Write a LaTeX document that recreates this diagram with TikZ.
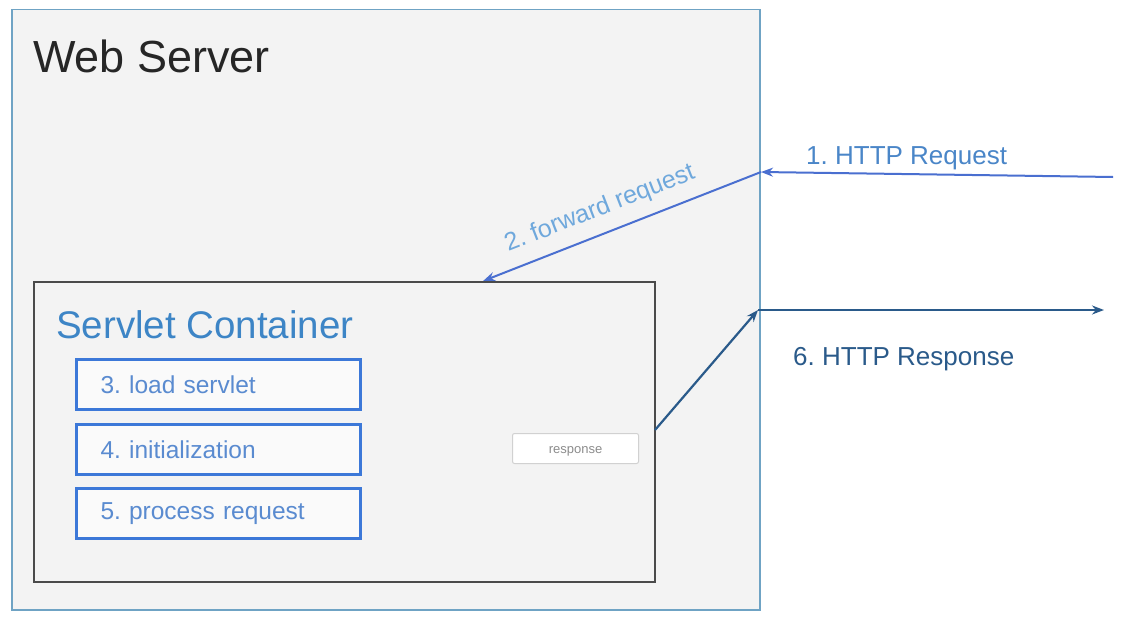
\documentclass[tikz,border=0pt]{standalone}
\usepackage{fontspec}
\setmainfont{Liberation Sans}
\usetikzlibrary{arrows.meta,calc}
\frenchspacing
\definecolor{wsborder}{HTML}{6FA3C4}
\definecolor{wsfill}{HTML}{F3F3F3}
\definecolor{contborder}{HTML}{4A4A4A}
\definecolor{stepblue}{HTML}{3C78D8}
\definecolor{steptext}{HTML}{5A8BD0}
\definecolor{reqblue}{HTML}{4A6FD0}
\definecolor{reqtext}{HTML}{4A86C8}
\definecolor{fwdtext}{HTML}{6FA8DC}
\definecolor{sctext}{HTML}{3D85C6}
\definecolor{respblue}{HTML}{2A5A8A}
\tikzset{
  stepbox/.style={draw=stepblue, line width=3pt, fill=white!60!wsfill, minimum width=284pt, minimum height=50pt,
    anchor=north west, inner xsep=24pt, text width=236pt, align=left, text=steptext, font=\fontsize{24.5}{28}\selectfont},
  reqarrow/.style={draw=reqblue, line width=2pt, -{Stealth[length=12pt,width=9pt]}},
  resparrow/.style={draw=respblue, line width=2.2pt, -{Stealth[length=12pt,width=9pt]}},
}
\begin{document}
\begin{tikzpicture}[x=1pt,y=-1pt]
\useasboundingbox[fill=white] (0,0) rectangle (1121,618);
\node[draw=wsborder, line width=1.5pt, fill=wsfill, minimum width=748pt, minimum height=600pt, anchor=north west, inner sep=0pt] (ws) at (11,9) {};
\node[anchor=base west, font=\fontsize{45}{52}\selectfont, text=black!85, inner sep=0pt] (wslabel) at (33,73) {Web Server};
\node[draw=contborder, line width=1.5pt, fill=wsfill, minimum width=621pt, minimum height=300pt, anchor=north west, inner sep=0pt] (cont) at (33,281) {};
\node[anchor=base west, font=\fontsize{38.5}{44}\selectfont, text=sctext, inner sep=0pt] (contlabel) at (56,338) {Servlet Container};
\node[stepbox] (s3) at (75,358) {3. load servlet};
\node[stepbox] (s4) at (75,423) {4. initialization};
\node[stepbox] (s5) at (75,487) {5. process request};
\node[draw=black!18, line width=1pt, fill=white, rounded corners=2pt, minimum width=126pt, minimum height=30pt, anchor=north west, inner sep=0pt] (resp) at (512,433) {};
\node[anchor=base, text=black!45, font=\fontsize{13}{15}\selectfont, inner sep=0pt] (resptext) at ($(resp.center)+(0,5)$) {response};
\coordinate (reqsrc) at (1113,177);
\coordinate (in) at (761,172);
\coordinate (out) at (758,310);
\coordinate (client) at (1104,310);
\coordinate (contexit) at (655,430);
\draw[reqarrow] (reqsrc) -- (in);
\draw[reqarrow] (in) -- ($(cont.north west)!0.723!(cont.north east)$);
\draw[resparrow] (contexit) -- (out);
\draw[resparrow] (out) -- (client);
\node[anchor=base west, font=\fontsize{26}{30}\selectfont, text=reqtext, inner sep=0pt] (reqlabel) at (806,164) {1. HTTP Request};
\node[rotate=21.3, font=\fontsize{25}{29}\selectfont, text=fwdtext, inner sep=0pt] (fwdlabel) at (600,209) {2. forward request};
\node[anchor=base west, font=\fontsize{26}{30}\selectfont, text=respblue, inner sep=0pt] (resplabel) at (793,365) {6. HTTP Response};
\end{tikzpicture}
\end{document}
